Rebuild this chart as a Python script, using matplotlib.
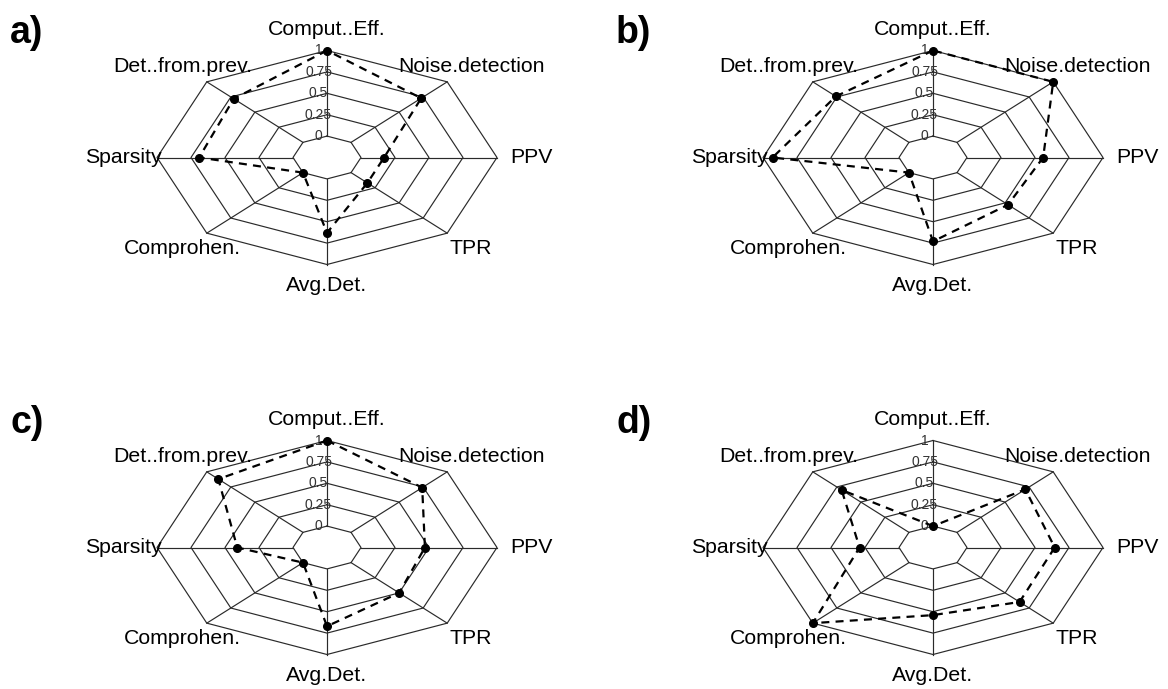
import numpy as np
import matplotlib
matplotlib.use("Agg")
import matplotlib.pyplot as plt

plt.rcParams["font.family"] = ["Liberation Sans", "DejaVu Sans"]

# axes in fmsb order: start at top, go counter-clockwise
axis_labels = ["Comput..Eff.", "Det..from.prev.", "Sparsity", "Comprohen.",
               "Avg.Det.", "TPR", "PPV", "Noise.detection"]
tick_labels = ["0", "0.25", "0.5", "0.75", "1"]

scores_a = [1.0, 0.72, 0.69, 0.0, 0.63, 0.17, 0.17, 0.73]
scores_b = [1.0, 0.76, 0.93, 0.0, 0.73, 0.53, 0.56, 1.0]
scores_c = [1.0, 0.88, 0.41, 0.0, 0.67, 0.50, 0.47, 0.74]
scores_d = [0.0, 0.70, 0.29, 1.0, 0.54, 0.65, 0.645, 0.71]

panel_names = ["a)", "b)", "c)", "d)"]

W, H = 1168, 689
SEG = 4  # rings between 0 and 1, plus one inner gap ring


def radar(fig, cx, cy, rx, ry, values):
    """Draw one fmsb-style radar chart centred at pixel (cx, cy)."""
    half = 1.45
    ax = fig.add_axes([(cx - half * rx) / W, (H - cy - half * ry) / H,
                       2 * half * rx / W, 2 * half * ry / H])
    ax.set_xlim(-half, half)
    ax.set_ylim(-half, half)
    ax.axis("off")

    n = len(axis_labels)
    theta = np.deg2rad(90 + 360 * np.arange(n) / n)
    xx, yy = np.cos(theta), np.sin(theta)

    # rings
    for i in range(SEG + 1):
        r = (i + 1) / (SEG + 1)
        ax.plot(np.append(xx, xx[0]) * r, np.append(yy, yy[0]) * r,
                color="#2a2a2a", lw=0.85, zorder=1)
        ax.text(-0.05, r, tick_labels[i], ha="center", va="center",
                fontsize=10, color="#333333", zorder=2)
    # spokes
    r0 = 1 / (SEG + 1)
    for x, y in zip(xx, yy):
        ax.plot([x * r0, x], [y * r0, y], color="#2a2a2a", lw=0.85, zorder=1)

    # axis names
    for lab, x, y in zip(axis_labels, xx, yy):
        ax.text(x * 1.2, y * 1.2, lab, ha="center", va="center",
                fontsize=15.3, color="black", clip_on=False)

    # data polygon
    v = np.asarray(values)
    r = (v * SEG + 1) / (SEG + 1)
    px, py = xx * r, yy * r
    ax.plot(np.append(px, px[0]), np.append(py, py[0]), color="black",
            lw=1.6, linestyle=(0, (3.6, 2.8)), zorder=3)
    ax.plot(px, py, "o", color="black", markersize=5.5, zorder=4)
    return ax


fig = plt.figure(figsize=(W / 100, H / 100), dpi=100)

centres = [(327, 157.5), (933, 157.5), (327, 547.5), (933, 547.5)]
all_scores = [scores_a, scores_b, scores_c, scores_d]
label_pos = [(10, 43), (616, 43), (10, 433), (616, 433)]

for (cx, cy), vals in zip(centres, all_scores):
    radar(fig, cx, cy, 170, 107, vals)

for name, (lx, ly) in zip(panel_names, label_pos):
    fig.text(lx / W, 1 - ly / H, name, ha="left", va="baseline",
             fontsize=27, fontweight="bold")

fig.savefig("out.png", dpi=100)
